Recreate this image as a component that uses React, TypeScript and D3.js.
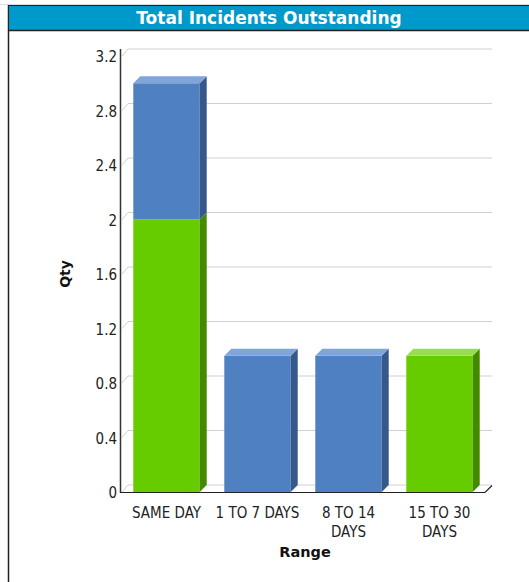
import * as d3 from "d3";

const categories = ["SAME DAY", "1 TO 7 DAYS", "8 TO 14 DAYS", "15 TO 30 DAYS"];
const categoryLines = [["SAME DAY"], ["1 TO 7 DAYS"], ["8 TO 14", "DAYS"], ["15 TO 30", "DAYS"]];
const greenValues = [2, 0, 0, 1];
const blueValues = [1, 1, 1, 0];
const yTicks = [0, 0.4, 0.8, 1.2, 1.6, 2, 2.4, 2.8, 3.2];

const series = [
  { key: "green", values: greenValues, front: "#66cc00", side: "#448a00", top: "#99dd55" },
  { key: "blue", values: blueValues, front: "#4f81c2", side: "#35598a", top: "#81a5d8" },
];

const W = 529;
const H = 582;
const depth = 7;
const font = "DejaVu Sans, Verdana, sans-serif";
const tickFont = "'DejaVu Sans Condensed', 'DejaVu Sans', sans-serif";

const App = () => {
  const x = d3.scaleBand().domain(categories).range([121, 485]).paddingInner(0.27).paddingOuter(0.135);
  const y = d3.scaleLinear().domain([0, 3.2]).range([492, 56]);

  const stack = d3
    .stack<number>()
    .keys(series.map((s) => s.key))
    .value((i, key) => series.find((s) => s.key === key)!.values[i]);
  const stacked = stack(d3.range(categories.length));

  // highest non-zero segment of each bar gets the top face
  const topIndex = categories.map((_, i) => {
    let t = -1;
    stacked.forEach((layer, li) => {
      if (layer[i][1] > layer[i][0]) t = li;
    });
    return t;
  });

  const bw = x.bandwidth();
  const [x0, x1] = x.range();
  const yTop = y(3.2);
  const yBot = y(0);

  return (
    <svg width={W} height={H} style={{ position: "absolute", left: 0, top: 0 }} fontFamily={font}>
      <rect x={0} y={0} width={W} height={H} fill="#fff" />
      {/* panel frame + title bar */}
      <rect x={8.5} y={5.5} width={W} height={H} fill="#fff" stroke="#222" strokeWidth={1.5} />
      <rect x={9} y={6} width={W} height={24} fill="#0099cc" />
      <line x1={9} x2={W} y1={30.5} y2={30.5} stroke="#222" strokeWidth={1.5} />
      <line x1={0} x2={W} y1={4.5} y2={4.5} stroke="#ddd" />
      <text x={269} y={24} textAnchor="middle" fill="#fff" fontWeight="bold" fontSize={17}>
        Total Incidents Outstanding
      </text>

      {/* grid */}
      {yTicks.map((t) => (
        <g key={t}>
          <polyline
            points={`${x0 + 1},${y(t)} ${x0 + depth},${y(t) - depth} ${x1 + depth},${y(t) - depth}`}
            fill="none"
            stroke="#d0d0d0"
          />
          <text x={117} y={y(t) + 6} textAnchor="end" fontSize={15} fontFamily={tickFont} fill="#222">
            {d3.format("~g")(t)}
          </text>
        </g>
      ))}

      {/* bars */}
      {stacked.map((layer, li) =>
        layer.map((d, i) => {
          if (d[1] <= d[0]) return null;
          const s = series[li];
          const bx = x(categories[i])!;
          const ya = y(d[1]);
          const yb = y(d[0]);
          return (
            <g key={`${li}-${i}`}>
              <rect x={bx} y={ya} width={bw} height={yb - ya} fill={s.front} />
              <polygon
                points={`${bx + bw},${ya} ${bx + bw + depth},${ya - depth} ${bx + bw + depth},${yb - depth} ${bx + bw},${yb}`}
                fill={s.side}
              />
              {topIndex[i] === li && (
                <polygon
                  points={`${bx},${ya} ${bx + depth},${ya - depth} ${bx + bw + depth},${ya - depth} ${bx + bw},${ya}`}
                  fill={s.top}
                />
              )}
            </g>
          );
        })
      )}

      {/* axes */}
      <line x1={x0 - 0.5} x2={x0 - 0.5} y1={yTop - depth} y2={yBot + 1} stroke="#333" strokeWidth={1.5} />
      <polyline
        points={`${x0 - 1},${yBot + 0.5} ${x1},${yBot + 0.5} ${x1 + depth},${yBot - depth + 0.5}`}
        fill="none"
        stroke="#222"
        strokeWidth={1.2}
      />

      {/* x labels */}
      {categories.map((c, i) => (
        <text key={c} x={x(c)! + bw / 2} y={518} textAnchor="middle" fontSize={15} fontFamily={tickFont} fill="#222">
          {categoryLines[i].map((line, li) => (
            <tspan key={li} x={x(c)! + bw / 2} dy={li === 0 ? 0 : 19}>
              {line}
            </tspan>
          ))}
        </text>
      ))}

      <text x={305} y={557} textAnchor="middle" fontSize={14.5} fontWeight="bold" fill="#111">
        Range
      </text>
      <text
        transform={`translate(70,${(yTop + yBot) / 2}) rotate(-90)`}
        textAnchor="middle"
        fontSize={14}
        fontWeight="bold"
        fill="#111"
      >
        Qty
      </text>
    </svg>
  );
};

export default App;
